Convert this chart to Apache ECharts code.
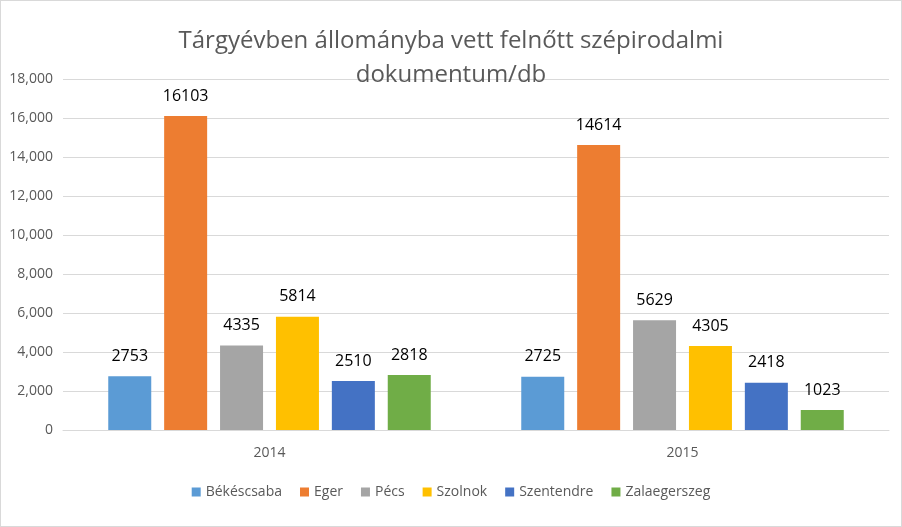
<!DOCTYPE html>
<html>
<head>
<meta charset="utf-8">
<script src="https://cdn.jsdelivr.net/npm/echarts@6/dist/echarts.min.js"></script>
<style>
  html, body { margin: 0; padding: 0; background: #fff; }
  #chart { width: 900px; height: 525px; border: 1px solid #d9d9d9; }
</style>
</head>
<body>
<div id="chart"></div>
<script>
const years = ['2014', '2015'];
const cities = ['Békéscsaba', 'Eger', 'Pécs', 'Szolnok', 'Szentendre', 'Zalaegerszeg'];
const colors = ['#5B9BD5', '#ED7D31', '#A5A5A5', '#FFC000', '#4472C4', '#70AD47'];
const values = [
    [2753, 2725],
    [16103, 14614],
    [4335, 5629],
    [5814, 4305],
    [2510, 2418],
    [2818, 1023]
];

const chart = echarts.init(document.getElementById('chart'));

const seriesList = cities.map((name, i) => ({
    type: 'bar',
    name: name,
    data: values[i],
    barWidth: 43,
    barGap: '30%',
    itemStyle: { color: colors[i] },
    label: {
        show: true,
        position: 'top',
        distance: 12,
        color: '#000',
        fontSize: 16,
        fontFamily: 'Open Sans'
    }
}));

chart.setOption({
    animation: false,
    textStyle: { fontFamily: 'Open Sans' },
    title: {
        text: 'Tárgyévben állományba vett felnőtt szépirodalmi\ndokumentum/db',
        left: 'center',
        top: 18,
        textStyle: { color: '#595959', fontSize: 24, fontWeight: 'normal', lineHeight: 34 }
    },
    legend: {
        bottom: 22,
        itemWidth: 9,
        itemHeight: 9,
        itemGap: 18,
        icon: 'rect',
        textStyle: { color: '#595959', fontSize: 14 }
    },
    grid: { left: 62, right: 12, top: 78, bottom: 96 },
    xAxis: {
        type: 'category',
        data: years,
        axisTick: { show: false },
        axisLine: { lineStyle: { color: '#d9d9d9' } },
        axisLabel: { color: '#595959', fontSize: 14, margin: 16 }
    },
    yAxis: {
        type: 'value',
        min: 0,
        max: 18000,
        interval: 2000,
        axisLabel: { color: '#595959', fontSize: 14, margin: 10 },
        splitLine: { lineStyle: { color: '#d9d9d9' } }
    },
    series: seriesList
});
</script>
</body>
</html>
